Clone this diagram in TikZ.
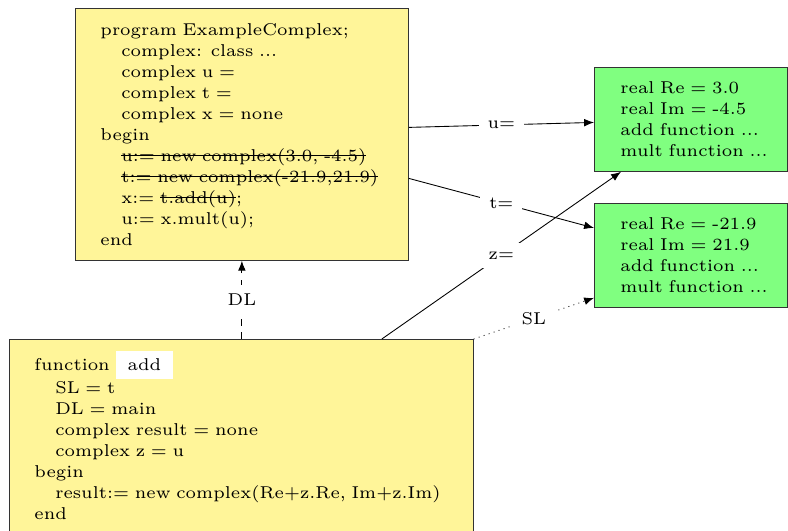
\documentclass[tikz,border=0pt]{standalone}
\usetikzlibrary{arrows.meta,positioning}
\definecolor{codeyellow}{HTML}{FFF599}
\definecolor{objgreen}{HTML}{80FF80}
% small-design Latin Modern, set at 7.8pt
\DeclareFontFamily{TU}{lmsix}{}
\DeclareFontShape{TU}{lmsix}{m}{n}{<-> "[lmroman6-regular]:+tlig;"}{}
\newcommand{\codefont}{\fontfamily{lmsix}\fontsize{7.8}{9.55}\selectfont}
\newcommand{\codeind}{\hspace*{9.5pt}}
\newsavebox{\strikebox}
\newcommand{\strike}[1]{\sbox\strikebox{#1}\rlap{\rule[2.5pt]{\wd\strikebox}{0.4pt}}\usebox\strikebox}
\newcommand{\namebox}[1]{{\setlength{\fboxsep}{0pt}\colorbox{white}{\rule[-3.8pt]{0pt}{12.9pt}\hspace{5.5pt}#1\hspace{5.5pt}}}}

\begin{document}
\begin{tikzpicture}[x=0.016cm,y=-0.016cm,
  codebox/.style={draw=black!80,fill=codeyellow,anchor=north west,align=left,font=\codefont,
    inner xsep=0.1cm,execute at begin node={\leftskip=0.3cm}},
  objbox/.style={draw=black!80,fill=objgreen,anchor=north west,align=left,font=\codefont,
    inner xsep=0.1cm,text width=2.888cm,minimum height=1.664cm,execute at begin node={\leftskip=0.316cm}},
  link/.style={-{Latex[length=4.5pt,width=3.5pt]}},
  lbl/.style={midway,fill=white,font=\codefont,inner sep=4pt}
]
\useasboundingbox (0,0) rectangle (788,531);

% main program
\node[codebox,text width=5.128cm,minimum height=4.032cm] (prog) at (75,8) {%
program ExampleComplex;\\
\codeind complex: class ...\\
\codeind complex u =\\
\codeind complex t =\\
\codeind complex x = none\\
begin\\
\codeind \strike{u:= new complex(3.0, -4.5)}\\
\codeind \strike{t:= new complex(-21.9,21.9)}\\
\codeind x:= \strike{t.add(u)};\\
\codeind u:= x.mult(u);\\
end};

% objects on the heap
\node[objbox] (objU) at (594,67) {%
real Re = 3.0\\
real Im = -4.5\\
add function ...\\
mult function ...};
\node[objbox] (objT) at (594,203) {%
real Re = -21.9\\
real Im = 21.9\\
add function ...\\
mult function ...};

% activation record of add
\node[codebox,text width=7.224cm,minimum height=3.072cm] (func) at (9,339) {%
function \namebox{add}\\[1pt]
\codeind SL = t\\
\codeind DL = main\\
\codeind complex result = none\\
\codeind complex z = u\\
begin\\
\codeind result:= new complex(Re+z.Re, Im+z.Im)\\
end};

\draw[link] ([yshift=0.112cm]prog.east) -- node[lbl]{u=} ([yshift=-0.048cm]objU.west);
\draw[link] ([yshift=-0.704cm]prog.east) -- node[lbl]{t=} ([yshift=0.44cm]objT.west);
\draw[link] ([xshift=5.968cm]func.north west) -- node[lbl]{z=} ([xshift=0.432cm]objU.south west);
\draw[link,dotted] (func.north east) -- node[lbl]{SL} ([yshift=-0.68cm]objT.west);
\draw[link,dashed] (prog.south |- func.north) -- node[lbl]{DL} (prog.south);
\end{tikzpicture}
\end{document}
